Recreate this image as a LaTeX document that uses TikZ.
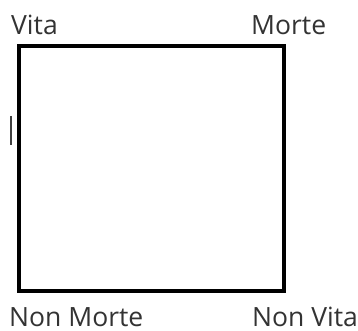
\documentclass[tikz,border=0pt]{standalone}
\usepackage{fontspec}
\setmainfont{Open Sans}
\usetikzlibrary{positioning}

\begin{document}
\begin{tikzpicture}[x=1pt,y=-1pt,font=\fontsize{26.5}{30}\selectfont]
  \tikzset{
    quad/.style={draw=black,line width=4pt,minimum width=265pt,minimum height=245pt,
                 inner sep=0pt},
    lab/.style={anchor=base west,inner sep=0pt,text=black!80},
  }
  \useasboundingbox (0,0) rectangle (358,331);
  % ---- square ----
  \node[quad] (box) at (151.5,168.5) {};
  % ---- corner labels ----
  \node[lab] (vita) at (11,35) {Vita};
  \node[lab] (morte) at (251,35) {Morte};
  \node[lab] (nonmorte) at (9,326) {Non Morte};
  \node[lab] (nonvita) at (252,326) {Non Vita};
  % ---- cursor ----
  \draw[line width=1.5pt,black!75] (11,116) -- (11,145);
\end{tikzpicture}
\end{document}
